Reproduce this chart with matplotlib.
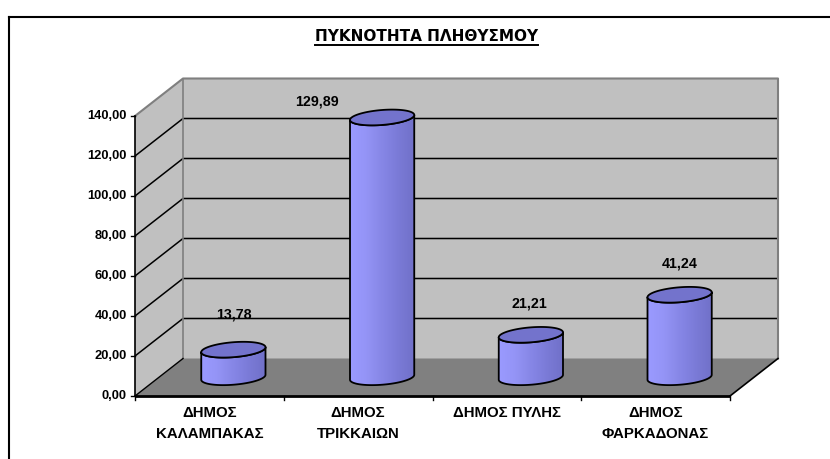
import numpy as np
import matplotlib
matplotlib.use("Agg")
import matplotlib.pyplot as plt
from matplotlib.patches import Polygon
from matplotlib.lines import Line2D
from matplotlib.colors import LinearSegmentedColormap

# ---------------- data ----------------
categories = ["ΔΗΜΟΣ\nΚΑΛΑΜΠΑΚΑΣ", "ΔΗΜΟΣ\nΤΡΙΚΚΑΙΩΝ", "ΔΗΜΟΣ ΠΥΛΗΣ", "ΔΗΜΟΣ\nΦΑΡΚΑΔΟΝΑΣ"]
values = [13.78, 129.89, 21.21, 41.24]
value_labels = ["13,78", "129,89", "21,21", "41,24"]
y_ticks = [0, 20, 40, 60, 80, 100, 120, 140]
title = "ΠΥΚΝΟΤΗΤΑ ΠΛΗΘΥΣΜΟΥ"

# ---------------- layout (pixels) ----------------
W, H, DPI = 830, 459, 100
X0_PX, PX_PER_CAT = 135.0, 148.75      # front y-axis x, category width
Y0_PX, PX_PER_UNIT = 396.0, 2.0        # front zero line, px per value unit
DEPTH_PX = (48.0, 37.5)                # depth offset (right, up)

DX = DEPTH_PX[0] / PX_PER_CAT
DY = DEPTH_PX[1] / PX_PER_UNIT
YMAX = y_ticks[-1]
N = len(categories)

FONT = ["Liberation Sans", "DejaVu Sans"]
plt.rcParams["font.family"] = FONT

fig = plt.figure(figsize=(W / DPI, H / DPI), dpi=DPI)
fig.patch.set_facecolor("white")
ax = fig.add_axes([0, 0, 1, 1])
ax.set_xlim(-X0_PX / PX_PER_CAT, (W - X0_PX) / PX_PER_CAT)
ax.set_ylim((Y0_PX - H) / PX_PER_UNIT, Y0_PX / PX_PER_UNIT)
ax.axis("off")

WALL = "#c0c0c0"
FLOOR = "#808080"
EDGE_GREY = "#7f7f7f"

# walls and floor
ax.add_patch(Polygon([(DX, DY), (N + DX, DY), (N + DX, YMAX + DY), (DX, YMAX + DY)],
                     closed=True, facecolor=WALL, edgecolor="none", zorder=1))
ax.add_patch(Polygon([(0, 0), (DX, DY), (DX, YMAX + DY), (0, YMAX)],
                     closed=True, facecolor=WALL, edgecolor="none", zorder=1))
ax.add_patch(Polygon([(0, 0), (N, 0), (N + DX, DY), (DX, DY)],
                     closed=True, facecolor=FLOOR, edgecolor="none", zorder=1))

# gridlines
for v in y_ticks[1:-1]:
    ax.plot([0, DX, N + DX], [v, v + DY, v + DY], color="black", lw=1.1, zorder=2,
            solid_capstyle="butt")
# wall edges
ax.plot([0, DX, N + DX, N + DX], [YMAX, YMAX + DY, YMAX + DY, DY], color=EDGE_GREY,
        lw=1.5, zorder=2)
ax.plot([DX, DX], [DY, YMAX + DY], color=EDGE_GREY, lw=1.2, zorder=2)
ax.plot([0, DX], [0, DY], color="black", lw=1.0, zorder=2)
ax.plot([N, N + DX], [0, DY], color="black", lw=1.2, zorder=2)

# front axes
ax.plot([0, 0], [0, YMAX], color="black", lw=1.2, zorder=6)
ax.plot([0, N], [0, 0], color="black", lw=2.0, zorder=6, solid_capstyle="butt")
tick_len_cat = 4 / PX_PER_CAT
tick_len_val = 4 / PX_PER_UNIT
for v in y_ticks:
    ax.plot([-tick_len_cat, 0], [v, v], color="black", lw=1.0, zorder=6)
    ax.annotate(f"{v:.2f}".replace(".", ","), (0, v), xytext=(-8 * 0.72, 0),
                textcoords="offset points", ha="right", va="center",
                fontsize=9.3, fontweight="bold", zorder=7)
for i in range(N + 1):
    ax.plot([i, i], [0, -tick_len_val], color="black", lw=1.0, zorder=6)

# category labels
for i, lab in enumerate(categories):
    ax.annotate(lab, (i + 0.5, 0), xytext=(0, -10 * 0.72), textcoords="offset points",
                ha="center", va="top", fontsize=10.8, fontweight="bold",
                linespacing=1.62, zorder=7)

# cylinders
cmap = LinearSegmentedColormap.from_list(
    "cyl", ["#9a9aff", "#9494f6", "#8686e6", "#7a7ad6", "#7070c8"])
TOP_COLOR = "#7373cc"
radius = 30.5 / PX_PER_CAT
depth_frac = 0.42
bx = depth_frac / 2 * DX
by = depth_frac / 2 * DY
phi = np.arctan2(bx, radius)


def ell(cx, cy, th):
    return cx + radius * np.cos(th) + bx * np.sin(th), cy + by * np.sin(th)


label_offsets_px = [(0.5, 35), (-65, 15.5), (-1, 31), (0, 31)]

for i, v in enumerate(values):
    cx = i + 0.5 + DX / 2
    base = DY / 2
    top = base + v
    th = np.linspace(np.pi + phi, 2 * np.pi + phi, 100)
    bxs, bys = ell(cx, base, th)
    txs, tys = ell(cx, top, th[::-1])
    body = np.column_stack([np.concatenate([bxs, txs]), np.concatenate([bys, tys])])
    poly = Polygon(body, closed=True, facecolor="none", edgecolor="black", lw=1.3,
                   zorder=5, joinstyle="round")
    ax.add_patch(poly)
    left, right = body[:, 0].min(), body[:, 0].max()
    grad = np.linspace(0, 1, 256).reshape(1, -1)
    im = ax.imshow(grad, cmap=cmap, aspect="auto", origin="lower",
                   extent=[left, right, base - by * 1.1, top + by * 1.1], zorder=4,
                   interpolation="bilinear")
    clip = Polygon(body, closed=True, transform=ax.transData)
    im.set_clip_path(clip)
    th2 = np.linspace(0, 2 * np.pi, 200)
    ex, ey = ell(cx, top, th2)
    ax.add_patch(Polygon(np.column_stack([ex, ey]), closed=True, facecolor=TOP_COLOR,
                         edgecolor="black", lw=1.3, zorder=6))
    dxp, dyp = label_offsets_px[i]
    ax.annotate(value_labels[i], (cx, top), xytext=(dxp * 0.72, dyp * 0.72),
                textcoords="offset points", ha="center", va="center",
                fontsize=10.3, fontweight="bold", zorder=8)

ax.set_xlim(-X0_PX / PX_PER_CAT, (W - X0_PX) / PX_PER_CAT)
ax.set_ylim((Y0_PX - H) / PX_PER_UNIT, Y0_PX / PX_PER_UNIT)

# frame
fig.add_artist(Line2D([8.5 / W, 8.5 / W], [0, 1 - 16.5 / H], color="black", lw=1.5,
                      transform=fig.transFigure))
fig.add_artist(Line2D([8.5 / W, 1], [1 - 16.5 / H, 1 - 16.5 / H], color="black", lw=1.5,
                      transform=fig.transFigure))

# title with underline
t = fig.text(426.5 / W, 1 - 41 / H, title, ha="center", va="baseline",
             fontsize=11, fontweight="bold", family=["DejaVu Sans"])
fig.canvas.draw()
bb = t.get_window_extent(fig.canvas.get_renderer())
uy = 1 - 44.5 / H
fig.add_artist(Line2D([bb.x0 / W, bb.x1 / W], [uy, uy], color="black", lw=1.4,
                      transform=fig.transFigure))

fig.savefig("out.png", dpi=DPI, facecolor="white")
